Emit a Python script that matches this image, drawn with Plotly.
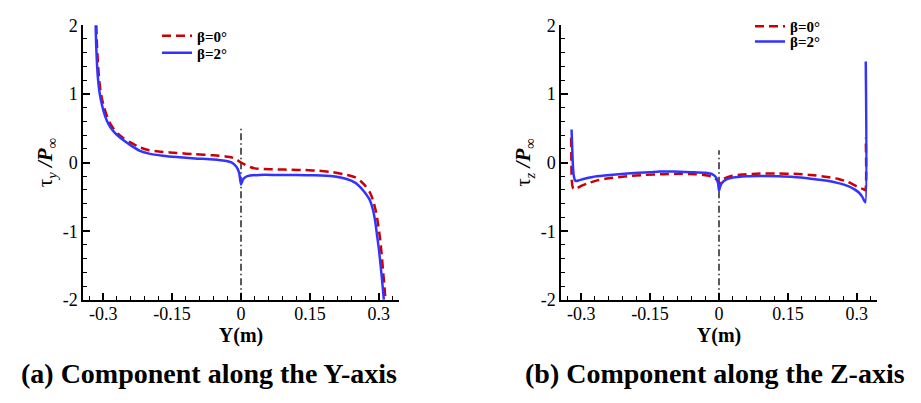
import plotly.graph_objects as go

# ---------------- data ----------------
# (a) tau_y / P_inf
ya_x_b0 = [-0.3150, -0.3135, -0.3115, -0.3090, -0.3060, -0.3025, -0.2980, -0.2920, -0.2850,
           -0.2770, -0.2680, -0.2550, -0.2400, -0.2200, -0.2000, -0.1700, -0.1400, -0.1000,
           -0.0600, -0.0350, -0.0200, -0.0100, 0.0000, 0.0100, 0.0200, 0.0300, 0.0500, 0.0800,
           0.1100, 0.1400, 0.1700, 0.2000, 0.2300, 0.2500, 0.2620, 0.2720, 0.2810, 0.2880,
           0.2940, 0.2990, 0.3030, 0.3060, 0.3090, 0.3120, 0.3145]
ya_y_b0 = [2.00, 1.70, 1.45, 1.22, 1.05, 0.92, 0.80, 0.68, 0.57,
           0.49, 0.42, 0.35, 0.29, 0.22, 0.18, 0.155, 0.14, 0.12,
           0.105, 0.09, 0.075, 0.045, 0.00, -0.035, -0.065, -0.085, -0.095, -0.10,
           -0.105, -0.11, -0.12, -0.14, -0.18, -0.22, -0.28, -0.35, -0.44, -0.56,
           -0.72, -0.92, -1.12, -1.32, -1.55, -1.78, -2.00]

ya_x_b2 = [-0.3165, -0.3155, -0.3140, -0.3120, -0.3095, -0.3070, -0.3030, -0.2980, -0.2920,
           -0.2850, -0.2770, -0.2680, -0.2550, -0.2400, -0.2200, -0.2000, -0.1700, -0.1400,
           -0.1000, -0.0600, -0.0350, -0.0200, -0.0100, -0.0040, 0.0000, 0.0040, 0.0100,
           0.0200, 0.0400, 0.0800, 0.1200, 0.1600, 0.2000, 0.2300, 0.2500, 0.2600, 0.2700,
           0.2800, 0.2870, 0.2920, 0.2960, 0.3000, 0.3040, 0.3070, 0.3090, 0.3110]
ya_y_b2 = [2.00, 1.75, 1.50, 1.27, 1.10, 0.98, 0.85, 0.72, 0.61,
           0.52, 0.45, 0.39, 0.32, 0.25, 0.17, 0.13, 0.10, 0.08,
           0.06, 0.045, 0.025, 0.00, -0.06, -0.15, -0.32, -0.25, -0.21,
           -0.19, -0.18, -0.18, -0.18, -0.185, -0.20, -0.24, -0.30, -0.36, -0.44,
           -0.54, -0.68, -0.85, -1.05, -1.25, -1.50, -1.70, -1.85, -2.00]

# (b) tau_z / P_inf
zb_x_b0 = [-0.3220, -0.3215, -0.3210, -0.3195, -0.3170, -0.3130, -0.3080, -0.3000, -0.2850,
           -0.2650, -0.2400, -0.2000, -0.1600, -0.1200, -0.0800, -0.0500, -0.0250, -0.0100,
           -0.0030, 0.0000, 0.0030, 0.0100, 0.0250, 0.0500, 0.0900, 0.1300, 0.1630, 0.2000,
           0.2360, 0.2600, 0.2800, 0.2950, 0.3070, 0.3150, 0.3185, 0.3195]
zb_y_b0 = [0.36, 0.10, -0.20, -0.33, -0.38, -0.39, -0.37, -0.34, -0.30,
           -0.26, -0.23, -0.20, -0.18, -0.17, -0.165, -0.17, -0.19, -0.22,
           -0.27, -0.31, -0.28, -0.24, -0.20, -0.175, -0.16, -0.16, -0.165, -0.18,
           -0.21, -0.24, -0.28, -0.33, -0.37, -0.39, -0.40, 0.36]

zb_x_b2 = [-0.3210, -0.3195, -0.3180, -0.3160, -0.3135, -0.3110, -0.3050, -0.2950, -0.2750,
           -0.2500, -0.2000, -0.1500, -0.1300, -0.1000, -0.0600, -0.0300, -0.0150, -0.0060,
           -0.0020, 0.0000, 0.0020, 0.0060, 0.0150, 0.0300, 0.0600, 0.0900, 0.1300, 0.1630,
           0.2000, 0.2360, 0.2600, 0.2800, 0.2950, 0.3050, 0.3120, 0.3165, 0.3188, 0.3195]
zb_y_b2 = [0.48, 0.20, -0.05, -0.20, -0.26, -0.27, -0.26, -0.24, -0.21,
           -0.19, -0.16, -0.14, -0.13, -0.13, -0.14, -0.15, -0.17, -0.22,
           -0.30, -0.41, -0.36, -0.30, -0.25, -0.22, -0.20, -0.195, -0.20, -0.21,
           -0.235, -0.265, -0.30, -0.34, -0.39, -0.44, -0.50, -0.56, -0.58, 1.47]

# symmetry-plane marker (dash-dot) at Y = 0
center_x = [0.0, 0.0]
center_y_a = [-2.0, 0.51]
center_y_b = [-2.0, 0.18]

x_tickvals = [-0.3, -0.15, 0.0, 0.15, 0.3]
x_ticktext = ["-0.3", "-0.15", "0", "0.15", "0.3"]
y_tickvals = [-2, -1, 0, 1, 2]
y_ticktext = ["-2", "-1", "0", "1", "2"]

series_names = ["<b>β=0°</b>", "<b>β=2°</b>"]
captions = ["(a) Component along the Y-axis", "(b) Component along the Z-axis"]

# ---------------- style ----------------
RED = "rgb(204,0,0)"
BLUE = "rgb(51,51,255)"
FONT = "Liberation Serif"
W, H = 921, 403

fig = go.Figure()

def add_panel(xa, ya, leg_r, leg_b, x0, y0, x2, y2, cy):
    fig.add_trace(go.Scatter(x=center_x, y=cy, mode="lines", xaxis=xa, yaxis=ya,
                             line=dict(color="black", width=1.3, dash="7px,3px,1.5px,3px"),
                             showlegend=False, hoverinfo="skip"))
    fig.add_trace(go.Scatter(x=x0, y=y0, mode="lines", name=series_names[0], xaxis=xa, yaxis=ya,
                             legend=leg_r, line=dict(color=RED, width=2.5, dash="9px,5px",
                                                     shape="spline", smoothing=0.6)))
    fig.add_trace(go.Scatter(x=x2, y=y2, mode="lines", name=series_names[1], xaxis=xa, yaxis=ya,
                             legend=leg_b, line=dict(color=BLUE, width=2.5,
                                                     shape="spline", smoothing=0.6)))

add_panel("x", "y", "legend", "legend3", ya_x_b0, ya_y_b0, ya_x_b2, ya_y_b2, center_y_a)
add_panel("x2", "y2", "legend2", "legend4", zb_x_b0, zb_y_b0, zb_x_b2, zb_y_b2, center_y_b)

ydom = [1 - 305 / H, 1 - 16 / H]

def xaxis(dom):
    return dict(domain=dom, range=[-0.344, 0.344], showline=True, linecolor="black", linewidth=1.5,
                ticks="inside", ticklen=7, tickwidth=1.5, tickcolor="black",
                tickvals=x_tickvals, ticktext=x_ticktext, ticklabelstandoff=-3,
                minor=dict(ticks="inside", ticklen=4, tickwidth=1, tickcolor="black",
                           dtick=0.03, tick0=0, showgrid=False),
                showgrid=False, zeroline=False,
                tickfont=dict(family=FONT, size=18, color="black"),
                title=dict(text="<b>Y(m)</b>", font=dict(family=FONT, size=20, color="black"),
                           standoff=0))

def yaxis(anchor, title):
    return dict(domain=ydom, anchor=anchor, range=[-2, 2], showline=True, linecolor="black",
                linewidth=1.5, ticks="inside", ticklen=7, tickwidth=1.5, tickcolor="black",
                tickvals=y_tickvals, ticktext=y_ticktext,
                minor=dict(ticks="inside", ticklen=4, tickwidth=1, tickcolor="black",
                           dtick=0.2, tick0=0, showgrid=False),
                showgrid=False, zeroline=False,
                tickfont=dict(family=FONT, size=18, color="black"),
                title=dict(text=title, font=dict(family=FONT, size=21, color="black"), standoff=4))

legend_style = dict(font=dict(family=FONT, size=15, color="black"), bgcolor="rgba(0,0,0,0)",
                    xanchor="left", yanchor="top", itemwidth=30)

fig.update_layout(
    width=W, height=H, margin=dict(l=0, r=0, t=0, b=0),
    paper_bgcolor="white", plot_bgcolor="white",
    font=dict(family=FONT, color="black"),
    xaxis=dict(**xaxis([83 / W, 399 / W]), anchor="y"),
    yaxis=yaxis("x", "τ<sub><i>y</i></sub> <b><i>/P</i></b><sub>∞</sub>"),
    xaxis2=dict(**xaxis([561 / W, 877 / W]), anchor="y2"),
    yaxis2=yaxis("x2", "τ<sub><i>z</i></sub> <b><i>/P</i></b><sub>∞</sub>"),
    legend=dict(**legend_style, x=157 / W, y=1 - 10 / H),
    legend3=dict(**legend_style, x=157 / W, y=1 - 28 / H),
    legend2=dict(**legend_style, x=750 / W, y=1 + 0 / H),
    legend4=dict(**legend_style, x=750 / W, y=1 - 16 / H),
    showlegend=True,
    annotations=[
        dict(text="<b>%s</b>" % captions[0], x=209 / W, y=1 - 383 / H, xref="paper", yref="paper",
             xanchor="center", yanchor="middle", showarrow=False,
             font=dict(family=FONT, size=28, color="black")),
        dict(text="<b>%s</b>" % captions[1], x=715 / W, y=1 - 383 / H, xref="paper", yref="paper",
             xanchor="center", yanchor="middle", showarrow=False,
             font=dict(family=FONT, size=28, color="black")),
    ],
)

fig.write_html("out.html")
